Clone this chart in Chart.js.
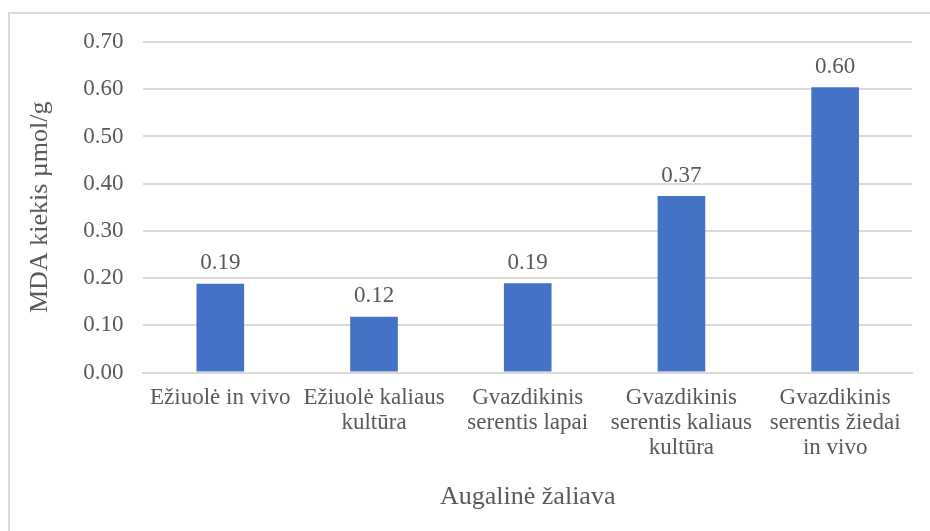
<!DOCTYPE html>
<html lang="lt">
<head>
    <meta charset="UTF-8">
    <title>MDA kiekis</title>
    <script src="https://cdn.jsdelivr.net/npm/chart.js@4.4.0/dist/chart.umd.min.js"></script>
    <style>
        html, body { margin: 0; padding: 0; background: #fff; }
        body { width: 930px; height: 531px; position: relative; overflow: hidden; }
        .frame { position: absolute; left: 8px; top: 12px; width: 940px; height: 540px; border: 2px solid #d9d9d9; box-sizing: border-box; }
        .chart-box { position: absolute; left: 0; top: 0; width: 930px; height: 531px; }
    </style>
</head>
<body>
    <div class="frame"></div>
    <div class="chart-box"><canvas id="mdaChart"></canvas></div>
    <script>
        const categories = [
            ['Ežiuolė in vivo'],
            ['Ežiuolė kaliaus', 'kultūra'],
            ['Gvazdikinis', 'serentis lapai'],
            ['Gvazdikinis', 'serentis kaliaus', 'kultūra'],
            ['Gvazdikinis', 'serentis žiedai', 'in vivo']
        ];
        const mdaValues = [0.188, 0.118, 0.189, 0.374, 0.604];
        const yTicks = [0, 0.1, 0.2, 0.3, 0.4, 0.5, 0.6, 0.7];

        const textColor = '#595959';
        const serif = "'Liberation Serif', 'Times New Roman', serif";

        // values printed above each bar
        const barLabels = {
            id: 'barLabels',
            afterDatasetsDraw(chart) {
                const ctx = chart.ctx;
                const meta = chart.getDatasetMeta(0);
                ctx.save();
                ctx.font = '23px ' + serif;
                ctx.fillStyle = textColor;
                ctx.textAlign = 'center';
                ctx.textBaseline = 'bottom';
                meta.data.forEach((bar, i) => {
                    ctx.fillText(mdaValues[i].toFixed(2), bar.x, bar.y - 9);
                });
                ctx.restore();
            }
        };

        new Chart(document.getElementById('mdaChart'), {
            type: 'bar',
            data: {
                labels: categories,
                datasets: [{
                    data: mdaValues,
                    backgroundColor: '#4472c4',
                    barPercentage: 1,
                    categoryPercentage: 0.31
                }]
            },
            options: {
                responsive: true,
                maintainAspectRatio: false,
                animation: false,
                layout: { padding: { left: 25, right: 18, top: 42, bottom: 18 } },
                plugins: {
                    legend: { display: false },
                    tooltip: { enabled: false }
                },
                scales: {
                    x: {
                        grid: { display: false, drawTicks: false },
                        border: { color: '#d9d9d9', width: 2 },
                        ticks: {
                            color: textColor,
                            font: { family: serif, size: 23, lineHeight: 1.09 },
                            padding: 13,
                            maxRotation: 0,
                            autoSkip: false
                        },
                        title: {
                            display: true,
                            text: 'Augalinė žaliava',
                            color: textColor,
                            font: { family: serif, size: 26 },
                            padding: { top: 8, bottom: 0 }
                        }
                    },
                    y: {
                        min: 0,
                        max: 0.7,
                        afterBuildTicks(axis) {
                            axis.ticks = yTicks.map(v => ({ value: v }));
                        },
                        grid: { color: '#d9d9d9', lineWidth: 2, drawTicks: false },
                        border: { display: false },
                        ticks: {
                            color: textColor,
                            font: { family: serif, size: 23 },
                            padding: 20,
                            callback: v => Number(v).toFixed(2)
                        },
                        title: {
                            display: true,
                            text: 'MDA kiekis µmol/g',
                            color: textColor,
                            font: { family: serif, size: 26 },
                            padding: { top: 0, bottom: 7 }
                        }
                    }
                }
            },
            plugins: [barLabels]
        });
    </script>
</body>
</html>
